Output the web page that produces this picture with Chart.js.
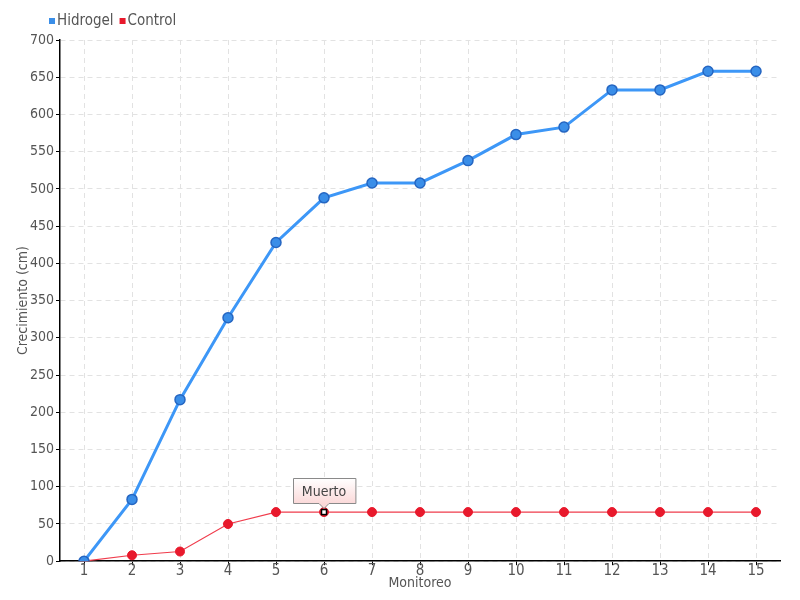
<!DOCTYPE html>
<html>
<head>
<meta charset="utf-8">
<script src="https://cdn.jsdelivr.net/npm/chart.js@4"></script>
<style>
html,body{margin:0;padding:0;background:#fff;}
#wrap{width:800px;height:600px;position:relative;}
</style>
</head>
<body>
<div id="wrap"><canvas id="c" width="800" height="600"></canvas></div>
<script>
const categories = ["1","2","3","4","5","6","7","8","9","10","11","12","13","14","15"];
const hidrogel = [0, 83, 217, 327, 428, 488, 508, 508, 538, 573, 583, 633, 633, 658, 658];
const control = [0, 8, 13, 50, 66, 66, 66, 66, 66, 66, 66, 66, 66, 66, 66];
const seriesNames = ["Hidrogel", "Control"];
const annotationIndex = 5;
const annotationText = "Muerto";
const yTitle = "Crecimiento (cm)";
const xTitle = "Monitoreo";

const FONT = "'DejaVu Sans Condensed', 'Liberation Sans Narrow', sans-serif";
const TXT = "#555";

const annotationPlugin = {
  id: 'muerto',
  afterDraw(chart) {
    const ctx = chart.ctx;
    ctx.save();
    ctx.font = "15px " + FONT;
    ctx.textBaseline = 'middle';
    ctx.textAlign = 'left';
    let lx = 49;
    const ly = 21;
    chart.data.datasets.forEach(ds => {
      ctx.fillStyle = ds.backgroundColor;
      ctx.fillRect(lx, ly - 3, 6, 6);
      ctx.fillStyle = TXT;
      ctx.fillText(ds.label, lx + 8, ly);
      lx += 8 + ctx.measureText(ds.label).width + 6;
    });
    ctx.restore();
  },
  afterDatasetsDraw(chart) {
    const ctx = chart.ctx;
    const pt = chart.getDatasetMeta(1).data[annotationIndex];
    const x = pt.x, y = pt.y;
    ctx.save();
    ctx.fillStyle = '#fff';
    ctx.strokeStyle = '#000';
    ctx.lineWidth = 1.5;
    ctx.fillRect(x - 2.5, y - 2.5, 5, 5);
    ctx.strokeRect(x - 2.5, y - 2.5, 5, 5);
    ctx.font = "14px " + FONT;
    const tw = ctx.measureText(annotationText).width;
    const w = tw + 18, h = 25;
    const bx = Math.round(x - w / 2) + 0.5, by = Math.round(y - 34) + 0.5;
    const grad = ctx.createLinearGradient(0, by, 0, by + h);
    grad.addColorStop(0, '#ffffff');
    grad.addColorStop(1, '#fbd9d9');
    ctx.beginPath();
    ctx.moveTo(bx, by);
    ctx.lineTo(bx + w, by);
    ctx.lineTo(bx + w, by + h);
    ctx.lineTo(x + 5, by + h);
    ctx.lineTo(x, by + h + 5);
    ctx.lineTo(x - 5, by + h);
    ctx.lineTo(bx, by + h);
    ctx.closePath();
    ctx.fillStyle = grad;
    ctx.fill();
    ctx.strokeStyle = '#8a8a8a';
    ctx.lineWidth = 1;
    ctx.stroke();
    ctx.fillStyle = '#444';
    ctx.textAlign = 'center';
    ctx.textBaseline = 'middle';
    ctx.fillText(annotationText, x, by + h / 2 + 1);
    ctx.restore();
  }
};

new Chart(document.getElementById('c'), {
  type: 'line',
  data: {
    labels: categories,
    datasets: [
      {
        label: seriesNames[0],
        data: hidrogel,
        borderColor: '#3d97f7',
        backgroundColor: '#3a8ee8',
        borderWidth: 3,
        pointRadius: 5,
        pointBackgroundColor: '#3a8ee8',
        pointBorderColor: '#2566c2',
        pointBorderWidth: 1.5,
        tension: 0
      },
      {
        label: seriesNames[1],
        data: control,
        borderColor: '#f03c4c',
        backgroundColor: '#e8192c',
        borderWidth: 1.2,
        pointRadius: 4.5,
        pointBackgroundColor: '#e8192c',
        pointBorderColor: '#e8192c',
        pointBorderWidth: 1,
        tension: 0
      }
    ]
  },
  options: {
    responsive: false,
    animation: false,
    events: [],
    layout: { padding: { left: 0, right: 20, top: 40, bottom: 8 } },
    plugins: {
      tooltip: { enabled: false },
      legend: { display: false }
    },
    scales: {
      x: {
        offset: true,
        grid: { color: '#e2e2e2', tickColor: '#000', tickLength: 4, offset: false, tickBorderDash: [] },
        border: { color: '#000', width: 1.5, dash: [5, 4] },
        ticks: { color: TXT, font: { family: FONT, size: 15 }, padding: -3, maxRotation: 0, autoSkip: false },
        title: { display: true, text: xTitle, color: TXT, font: { family: FONT, size: 14 }, padding: { top: -2, bottom: 0 } }
      },
      y: {
        min: 0, max: 700,
        afterFit(s) { s.width = 60; },
        grid: { color: '#e2e2e2', tickColor: '#000', tickLength: 4, tickBorderDash: [] },
        border: { color: '#000', width: 1.5, dash: [5, 4] },
        ticks: { stepSize: 50, color: TXT, font: { family: FONT, size: 14 }, padding: 2 },
        title: { display: true, text: yTitle, color: TXT, font: { family: FONT, size: 14 }, padding: { top: 15, bottom: 0 } }
      }
    }
  },
  plugins: [annotationPlugin]
});
</script>
</body>
</html>
